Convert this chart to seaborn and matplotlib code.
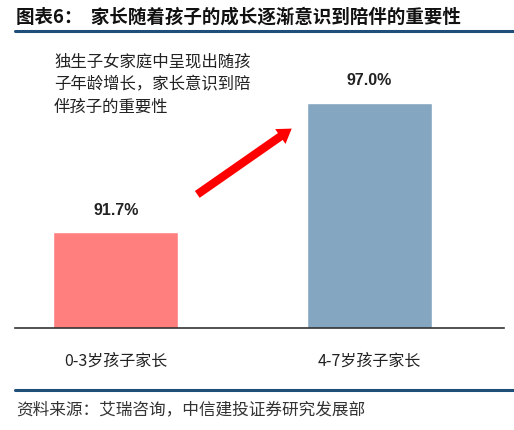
import matplotlib
matplotlib.use("Agg")
import matplotlib.pyplot as plt
from matplotlib.lines import Line2D
from matplotlib.patches import FancyArrowPatch
import seaborn as sns
import pandas as pd

categories = ['0-3岁孩子家长', '4-7岁孩子家长']
values = [91.7, 97.0]
value_labels = ['91.7%', '97.0%']
bar_colors = ['#FF7F7F', '#84A6C0']
title = '图表6：  家长随着孩子的成长逐渐意识到陪伴的重要性'
note_lines = ['独生子女家庭中呈现出随孩', '子年龄增长，家长意识到陪', '伴孩子的重要性']
source = '资料来源：艾瑞咨询，中信建投证券研究发展部'

sns.set_theme(style='white')
plt.rcParams['font.family'] = ['Noto Sans CJK SC', 'DejaVu Sans']

W, H = 514, 431
fig = plt.figure(figsize=(W / 100, H / 100), dpi=100)
ax = fig.add_axes([15 / W, 1 - 329 / H, 489 / W, 289 / H])

df = pd.DataFrame({'cat': categories, 'val': values})
sns.barplot(data=df, x='cat', y='val', hue='cat', palette=bar_colors,
            width=0.493, saturation=1, legend=False, ax=ax)
ax.set_ylim(87.8, 99.6)
ax.set_xlim(-0.398, 1.53)
ax.set_xlabel('')
ax.set_ylabel('')
ax.set_yticks([])
for s in ['top', 'right', 'left']:
    ax.spines[s].set_visible(False)
ax.spines['bottom'].set_color('#333333')
ax.spines['bottom'].set_linewidth(1.2)
ax.tick_params(axis='x', length=0, pad=17, labelsize=11.5, labelcolor='#222222')

for i, (v, lab) in enumerate(zip(values, value_labels)):
    ax.annotate(lab, xy=(i, v), xytext=(0, 11), textcoords='offset points',
                ha='center', va='bottom', fontsize=11.5, fontweight='bold',
                family=['Liberation Sans', 'DejaVu Sans'], color='#222222')

# title and rules
fig.text(16 / W, 1 - 17 / H, title, fontsize=13.3, fontweight='heavy',
         va='center', ha='left', color='#111111')
fig.add_artist(Line2D([15 / W, 1], [1 - 32 / H, 1 - 32 / H], color='#1F4E79', lw=2.2))
fig.add_artist(Line2D([15 / W, 1], [1 - 391 / H, 1 - 391 / H], color='#1F4E79', lw=2.2))
fig.text(16 / W, 1 - 410 / H, source, fontsize=12, style='italic',
         va='center', ha='left', color='#333333')

# note text
for k, line in enumerate(note_lines):
    fig.text(54 / W, 1 - (62 + 22.5 * k) / H, line, fontsize=11.8, va='center',
             ha='left', color='#222222')

# arrow
arrow = FancyArrowPatch((195 / W, 1 - 197 / H), (294 / W, 1 - 128 / H),
                        transform=fig.transFigure,
                        arrowstyle='simple,head_width=13,head_length=10,tail_width=6',
                        mutation_scale=1, color='#FF0000', lw=0)
fig.add_artist(arrow)

fig.savefig('out.png', dpi=100)
